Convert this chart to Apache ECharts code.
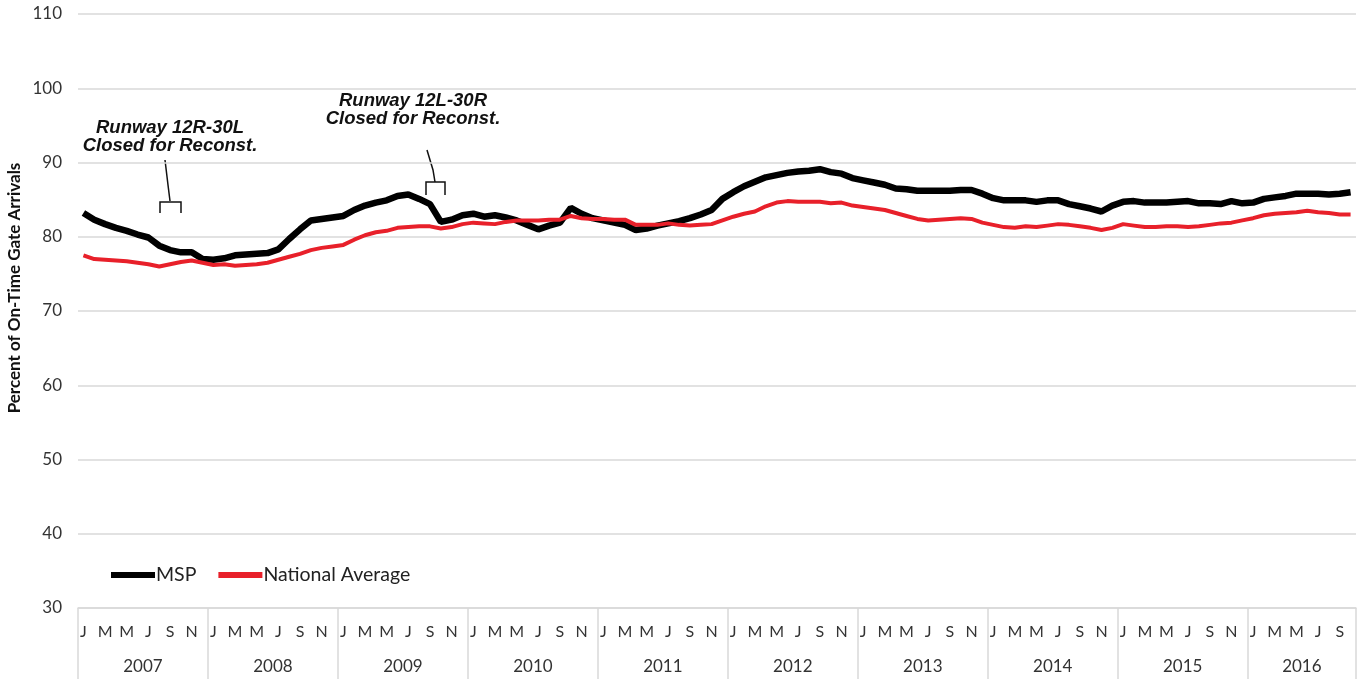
<!DOCTYPE html>
<html>
<head>
<meta charset="utf-8">
<script src="https://cdn.jsdelivr.net/npm/echarts@6/dist/echarts.min.js"></script>
<style>
html,body{margin:0;padding:0;background:#fff;}
#chart{width:1359px;height:679px;}
</style>
</head>
<body>
<div id="chart"></div>
<script>
var years = ['2007','2008','2009','2010','2011','2012','2013','2014','2015','2016'];
var monthsPerYear = [12,12,12,12,12,12,12,12,12,10];
var monthNames = ['Jan','Feb','Mar','Apr','May','Jun','Jul','Aug','Sep','Oct','Nov','Dec'];
var monthLetters = ['J','F','M','A','M','J','J','A','S','O','N','D'];
var yTicks = [30,40,50,60,70,80,90,100,110];

var mspValues = [
  83.2,82.3,81.7,81.2,80.8,80.3,79.9,78.8,78.2,77.9,77.9,77.0,
  76.9,77.1,77.5,77.6,77.7,77.8,78.3,79.7,81.0,82.2,82.4,82.6,
  82.8,83.6,84.2,84.6,84.9,85.5,85.7,85.1,84.4,82.0,82.3,82.9,
  83.1,82.7,82.9,82.6,82.2,81.6,81.0,81.5,81.9,83.9,83.1,82.5,
  82.2,81.9,81.6,80.9,81.1,81.5,81.8,82.1,82.5,83.0,83.6,85.1,
  86.0,86.8,87.4,88.0,88.3,88.6,88.8,88.9,89.1,88.7,88.5,87.9,
  87.6,87.3,87.0,86.5,86.4,86.2,86.2,86.2,86.2,86.3,86.3,85.8,
  85.2,84.9,84.9,84.9,84.7,84.9,84.9,84.4,84.1,83.8,83.4,84.2,
  84.7,84.8,84.6,84.6,84.6,84.7,84.8,84.5,84.5,84.4,84.8,84.5,
  84.6,85.1,85.3,85.5,85.8,85.8,85.8,85.7,85.8,86.0
];
var nationalValues = [
  77.5,77.0,76.9,76.8,76.7,76.5,76.3,76.0,76.3,76.6,76.8,76.5,
  76.2,76.3,76.1,76.2,76.3,76.5,76.9,77.3,77.7,78.2,78.5,78.7,
  78.9,79.6,80.2,80.6,80.8,81.2,81.3,81.4,81.4,81.1,81.3,81.7,
  81.9,81.8,81.7,82.0,82.2,82.2,82.2,82.3,82.3,82.8,82.5,82.4,
  82.4,82.3,82.3,81.6,81.6,81.6,81.8,81.6,81.5,81.6,81.7,82.2,
  82.7,83.1,83.4,84.1,84.6,84.8,84.7,84.7,84.7,84.5,84.6,84.2,
  84.0,83.8,83.6,83.2,82.8,82.4,82.2,82.3,82.4,82.5,82.4,81.9,
  81.6,81.3,81.2,81.4,81.3,81.5,81.7,81.6,81.4,81.2,80.9,81.2,
  81.7,81.5,81.3,81.3,81.4,81.4,81.3,81.4,81.6,81.8,81.9,82.2,
  82.5,82.9,83.1,83.2,83.3,83.5,83.3,83.2,83.0,83.0
];

// month categories, year boundaries and year centres (in month units)
var categories = [];
var yearStarts = [];
var yearCenters = [];
var n = 0;
for (var y = 0; y < years.length; y++) {
  yearStarts.push(n);
  yearCenters.push(n + monthsPerYear[y] / 2);
  for (var m = 0; m < monthsPerYear[y]; m++) {
    categories.push(monthNames[m] + ' ' + years[y]);
  }
  n += monthsPerYear[y];
}
yearStarts.push(n);

var textColor = '#333';
var gridColor = '#d9d9d9';

var chart = echarts.init(document.getElementById('chart'));
var option = {
  animation: false,
  grid: {left: 78, right: 3, top: 14, bottom: 71},
  legend: {
    left: 106,
    top: 560,
    itemWidth: 44,
    itemHeight: 6,
    itemGap: 22,
    icon: 'rect',
    textStyle: {fontFamily: 'Lato', fontSize: 19.5, color: '#222', padding: [0, 0, 0, -4]},
    data: ['MSP', 'National Average']
  },
  xAxis: [{
    type: 'category',
    data: categories,
    boundaryGap: true,
    axisLine: {lineStyle: {color: gridColor, width: 1.5}},
    axisTick: {
      show: true,
      length: 71,
      interval: function (i) { return i % 12 === 0; },
      lineStyle: {color: gridColor, width: 1.5}
    },
    axisLabel: {
      interval: function (i) { return i % 2 === 0; },
      formatter: function (v, i) { return monthLetters[i % 12]; },
      margin: 16,
      fontFamily: 'Lato',
      fontSize: 16,
      color: textColor
    },
    splitLine: {show: false}
  }, {
    type: 'value',
    min: 0,
    max: n,
    position: 'bottom',
    axisLine: {show: false},
    axisTick: {show: true, customValues: yearStarts, length: 71, lineStyle: {color: gridColor, width: 1.5}},
    splitLine: {show: false},
    axisLabel: {
      customValues: yearCenters,
      formatter: function (v) {
        var k = yearCenters.indexOf(v);
        return k >= 0 ? years[k] : '';
      },
      margin: 50,
      fontFamily: 'Lato',
      fontSize: 17,
      color: textColor
    }
  }],
  yAxis: {
    type: 'value',
    min: yTicks[0],
    max: yTicks[yTicks.length - 1],
    interval: 10,
    axisLine: {show: false},
    axisTick: {show: false},
    axisLabel: {margin: 16, fontFamily: 'Lato', fontSize: 17, color: textColor},
    splitLine: {lineStyle: {color: gridColor, width: 1.5}}
  },
  series: [{
    name: 'MSP',
    type: 'line',
    xAxisIndex: 0,
    data: mspValues,
    symbol: 'none',
    color: '#000',
    lineStyle: {width: 6.5, color: '#000'},
    z: 3
  }, {
    name: 'National Average',
    type: 'line',
    xAxisIndex: 0,
    data: nationalValues,
    symbol: 'none',
    color: '#e8202a',
    lineStyle: {width: 4, color: '#e8202a'},
    z: 4
  }],
  graphic: [
    {type: 'text', x: 15, y: 288, rotation: Math.PI / 2,
     style: {text: 'Percent of On-Time Gate Arrivals', font: 'bold 17px Lato', fill: '#111',
             textAlign: 'center', textVerticalAlign: 'middle'}},
    {type: 'text', x: 170, y: 137,
     style: {text: 'Runway 12R-30L\nClosed for Reconst.', font: 'italic bold 18.5px "Liberation Sans"', fill: '#111',
             textAlign: 'center', textVerticalAlign: 'middle', lineHeight: 18}},
    {type: 'polyline', shape: {points: [[165, 160], [168, 185], [170, 201]]},
     style: {stroke: '#111', lineWidth: 1.5, fill: null}},
    {type: 'polyline', shape: {points: [[160, 213], [160, 202], [181, 202], [181, 213]]},
     style: {stroke: '#111', lineWidth: 1.5, fill: null}},
    {type: 'text', x: 413, y: 110,
     style: {text: 'Runway 12L-30R\nClosed for Reconst.', font: 'italic bold 18.5px "Liberation Sans"', fill: '#111',
             textAlign: 'center', textVerticalAlign: 'middle', lineHeight: 18}},
    {type: 'polyline', shape: {points: [[427, 150], [433, 170], [435, 182]]},
     style: {stroke: '#111', lineWidth: 1.5, fill: null}},
    {type: 'polyline', shape: {points: [[426, 195], [426, 182], [445, 182], [445, 195]]},
     style: {stroke: '#111', lineWidth: 1.5, fill: null}}
  ]
};
chart.setOption(option, true);
window.addEventListener('resize', function () {
  chart.resize();
});
</script>
</body>
</html>
